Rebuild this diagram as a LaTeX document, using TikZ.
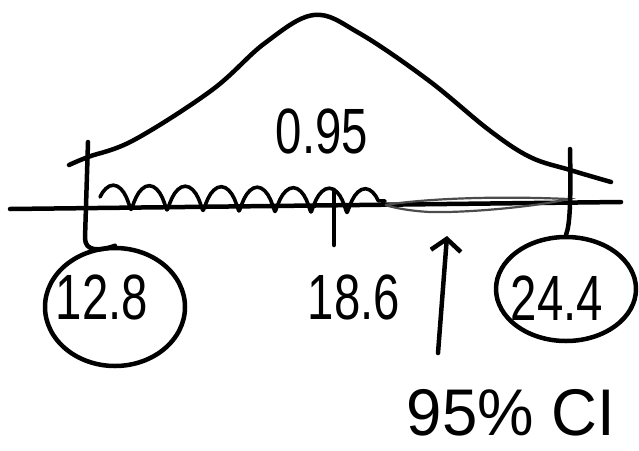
\documentclass[tikz,border=0pt]{standalone}
\usepackage{fontspec}
\setmainfont{Liberation Sans}
\usetikzlibrary{shapes.geometric,arrows.meta,decorations.pathmorphing}
\begin{document}
\begin{tikzpicture}[x=1pt,y=-1pt,
  ink/.style={line width=4.5pt,line cap=round,line join=round,black},
  valbox/.style={ellipse,draw,ink,inner sep=0pt},
  numtext/.style={font=\fontsize{64}{64}\selectfont,inner sep=0pt,xscale=0.74}]
\useasboundingbox (0,0) rectangle (639,450);
% bell curve
\draw[ink] plot[smooth,tension=0.6] coordinates {(69,165) (88,157) (134,140) (212,90) (265,43) (314,15) (359,33) (428,80) (489,130) (530,157) (570,170) (611,182)};
% axis
\draw[ink] (10,209) -- (621,202);
% shaded region (wavy)
\draw[ink,line width=3.6pt,decorate,decoration={coil,aspect=0.35,segment length=36pt,amplitude=12pt}] (100,197) -- (385,201);
\draw[line width=2.2pt,gray!60!black] (385,205) .. controls (430,198) and (500,196) .. (568,199) .. controls (540,206) and (470,213) .. (430,212) .. controls (410,211) and (395,208) .. (385,205);
% nodes
\node[valbox,minimum width=140pt,minimum height=118pt] (c1) at (115,307) {};
\node[numtext] (t1) at (102,297) {12.8};
\node[valbox,minimum width=140pt,minimum height=104pt] (c2) at (566,289) {};
\node[numtext] (t2) at (557,298) {24.4};
\node[numtext] (t3) at (354,297) {18.6};
\node[numtext] (t4) at (322,131) {0.95};
\node[numtext,font=\fontsize{66}{66}\selectfont,xscale=1.3] (t5) at (511,413) {95\% CI};
% ticks
\coordinate (lt) at (88,142);
\coordinate (lb) at (85,238);
\draw[ink] (lt) -- (lb) .. controls (85,252) and (100,251) .. (c1.north);
\coordinate (mt) at (334,190);
\coordinate (mb) at (334,245);
\draw[ink] (mt) -- (mb);
\coordinate (rt) at (570,149);
\draw[ink] (rt) .. controls (571,200) and (570,225) .. (c2.north);
% arrow
\coordinate (as) at (438,353);
\coordinate (ae) at (447,236);
\draw[ink,-{Straight Barb[length=12pt,width=30pt,line width=4.5pt]}] (as) -- (ae);
\end{tikzpicture}
\end{document}
